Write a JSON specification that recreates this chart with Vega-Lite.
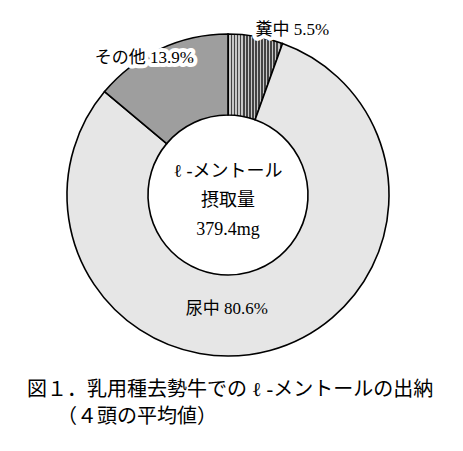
{
  "$schema": "https://vega.github.io/schema/vega-lite/v6.json",
  "width": 456,
  "height": 390,
  "padding": 0,
  "background": "white",
  "title": {
    "text": ["図１．乳用種去勢牛での ℓ -メントールの出納", "\u200b\u3000\u3000（４頭の平均値）"],
    "orient": "bottom",
    "anchor": "start",
    "dx": 27,
    "offset": -10,
    "baseline": "top",
    "font": "Liberation Serif, Noto Sans CJK JP",
    "fontSize": 20,
    "fontWeight": "normal",
    "lineHeight": 27,
    "color": "black"
  },
  "datasets": {
    "excretion": [
      {"category": "糞中", "percent": 5.5, "rank": 1, "label": "糞中 5.5%"},
      {"category": "尿中", "percent": 80.6, "rank": 2, "label": "尿中 80.6%"},
      {"category": "その他", "percent": 13.9, "rank": 3, "label": "その他 13.9%"}
    ],
    "intake": [
      {"text": ["ℓ -メントール", "摂取量", "379.4mg"]}
    ]
  },
  "layer": [
    {
      "data": {"name": "excretion"},
      "mark": {"type": "arc", "outerRadius": 161, "innerRadius": 80, "stroke": "black", "strokeWidth": 1.6},
      "encoding": {
        "theta": {"field": "percent", "type": "quantitative", "stack": true},
        "order": {"field": "rank", "type": "ordinal"},
        "fill": {
          "condition": [
            {
              "test": "datum.category === '糞中'",
              "value": {
                "gradient": "linear", "x1": 0, "x2": 1, "y1": 0, "y2": 0,
                "stops": [
                  {"offset": 0, "color": "#444"}, {"offset": 0.025, "color": "#444"}, {"offset": 0.025, "color": "#c8c8c8"}, {"offset": 0.0556, "color": "#c8c8c8"},
                  {"offset": 0.0556, "color": "#444"}, {"offset": 0.0806, "color": "#444"}, {"offset": 0.0806, "color": "#c8c8c8"}, {"offset": 0.1111, "color": "#c8c8c8"},
                  {"offset": 0.1111, "color": "#444"}, {"offset": 0.1361, "color": "#444"}, {"offset": 0.1361, "color": "#c8c8c8"}, {"offset": 0.1667, "color": "#c8c8c8"},
                  {"offset": 0.1667, "color": "#444"}, {"offset": 0.1917, "color": "#444"}, {"offset": 0.1917, "color": "#c8c8c8"}, {"offset": 0.2222, "color": "#c8c8c8"},
                  {"offset": 0.2222, "color": "#444"}, {"offset": 0.2472, "color": "#444"}, {"offset": 0.2472, "color": "#c8c8c8"}, {"offset": 0.2778, "color": "#c8c8c8"},
                  {"offset": 0.2778, "color": "#444"}, {"offset": 0.3028, "color": "#444"}, {"offset": 0.3028, "color": "#c8c8c8"}, {"offset": 0.3333, "color": "#c8c8c8"},
                  {"offset": 0.3333, "color": "#444"}, {"offset": 0.3583, "color": "#444"}, {"offset": 0.3583, "color": "#c8c8c8"}, {"offset": 0.3889, "color": "#c8c8c8"},
                  {"offset": 0.3889, "color": "#444"}, {"offset": 0.4139, "color": "#444"}, {"offset": 0.4139, "color": "#c8c8c8"}, {"offset": 0.4444, "color": "#c8c8c8"},
                  {"offset": 0.4444, "color": "#444"}, {"offset": 0.4694, "color": "#444"}, {"offset": 0.4694, "color": "#c8c8c8"}, {"offset": 0.5, "color": "#c8c8c8"},
                  {"offset": 0.5, "color": "#444"}, {"offset": 0.525, "color": "#444"}, {"offset": 0.525, "color": "#c8c8c8"}, {"offset": 0.5556, "color": "#c8c8c8"},
                  {"offset": 0.5556, "color": "#444"}, {"offset": 0.5806, "color": "#444"}, {"offset": 0.5806, "color": "#c8c8c8"}, {"offset": 0.6111, "color": "#c8c8c8"},
                  {"offset": 0.6111, "color": "#444"}, {"offset": 0.6361, "color": "#444"}, {"offset": 0.6361, "color": "#c8c8c8"}, {"offset": 0.6667, "color": "#c8c8c8"},
                  {"offset": 0.6667, "color": "#444"}, {"offset": 0.6917, "color": "#444"}, {"offset": 0.6917, "color": "#c8c8c8"}, {"offset": 0.7222, "color": "#c8c8c8"},
                  {"offset": 0.7222, "color": "#444"}, {"offset": 0.7472, "color": "#444"}, {"offset": 0.7472, "color": "#c8c8c8"}, {"offset": 0.7778, "color": "#c8c8c8"},
                  {"offset": 0.7778, "color": "#444"}, {"offset": 0.8028, "color": "#444"}, {"offset": 0.8028, "color": "#c8c8c8"}, {"offset": 0.8333, "color": "#c8c8c8"},
                  {"offset": 0.8333, "color": "#444"}, {"offset": 0.8583, "color": "#444"}, {"offset": 0.8583, "color": "#c8c8c8"}, {"offset": 0.8889, "color": "#c8c8c8"},
                  {"offset": 0.8889, "color": "#444"}, {"offset": 0.9139, "color": "#444"}, {"offset": 0.9139, "color": "#c8c8c8"}, {"offset": 0.9444, "color": "#c8c8c8"},
                  {"offset": 0.9444, "color": "#444"}, {"offset": 0.9694, "color": "#444"}, {"offset": 0.9694, "color": "#c8c8c8"}, {"offset": 1, "color": "#c8c8c8"}
                ]
              }
            },
            {"test": "datum.category === 'その他'", "value": "#9e9e9e"}
          ],
          "value": "#e6e6e6"
        }
      }
    },
    {
      "data": {"name": "excretion"},
      "mark": {"type": "text", "radius": 177, "dx": 34, "dy": 9, "font": "Liberation Serif, Noto Sans CJK JP", "fontSize": 17, "fill": "white", "stroke": "white", "strokeWidth": 8, "strokeJoin": "round"},
      "encoding": {
        "theta": {"field": "percent", "type": "quantitative", "stack": true},
        "order": {"field": "rank", "type": "ordinal"},
        "text": {"condition": {"test": "datum.category === '糞中'", "field": "label"}, "value": ""}
      }
    },
    {
      "data": {"name": "excretion"},
      "mark": {"type": "text", "radius": 177, "dx": 34, "dy": 9, "font": "Liberation Serif, Noto Sans CJK JP", "fontSize": 17, "fill": "black"},
      "encoding": {
        "theta": {"field": "percent", "type": "quantitative", "stack": true},
        "order": {"field": "rank", "type": "ordinal"},
        "text": {"condition": {"test": "datum.category === '糞中'", "field": "label"}, "value": ""}
      }
    },
    {
      "data": {"name": "excretion"},
      "mark": {"type": "text", "radius": 160, "dx": -16, "dy": 8, "font": "Liberation Serif, Noto Sans CJK JP", "fontSize": 17, "fill": "white", "stroke": "white", "strokeWidth": 8, "strokeJoin": "round"},
      "encoding": {
        "theta": {"field": "percent", "type": "quantitative", "stack": true},
        "order": {"field": "rank", "type": "ordinal"},
        "text": {"condition": {"test": "datum.category === 'その他'", "field": "label"}, "value": ""}
      }
    },
    {
      "data": {"name": "excretion"},
      "mark": {"type": "text", "radius": 160, "dx": -16, "dy": 8, "font": "Liberation Serif, Noto Sans CJK JP", "fontSize": 17, "fill": "black"},
      "encoding": {
        "theta": {"field": "percent", "type": "quantitative", "stack": true},
        "order": {"field": "rank", "type": "ordinal"},
        "text": {"condition": {"test": "datum.category === 'その他'", "field": "label"}, "value": ""}
      }
    },
    {
      "data": {"name": "excretion"},
      "mark": {"type": "text", "radius": 114, "dx": -31, "dy": 4, "font": "Liberation Serif, Noto Sans CJK JP", "fontSize": 17, "fill": "black"},
      "encoding": {
        "theta": {"field": "percent", "type": "quantitative", "stack": true},
        "order": {"field": "rank", "type": "ordinal"},
        "text": {"condition": {"test": "datum.category === '尿中'", "field": "label"}, "value": ""}
      }
    },
    {
      "data": {"name": "intake"},
      "mark": {"type": "text", "dy": -23, "lineHeight": 29, "font": "Liberation Serif, Noto Sans CJK JP", "fontSize": 18, "fill": "black", "align": "center", "baseline": "middle"},
      "encoding": {
        "text": {"field": "text", "type": "nominal"}
      }
    }
  ]
}
